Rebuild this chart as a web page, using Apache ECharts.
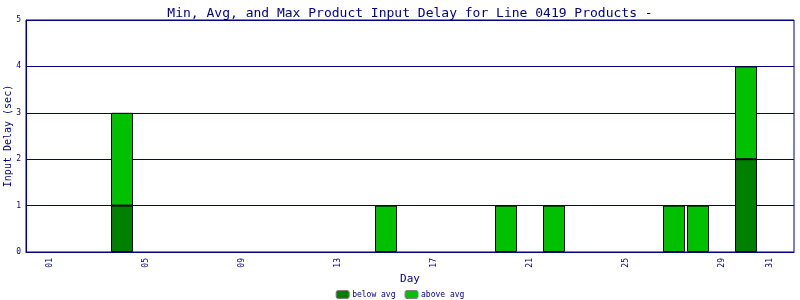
<!DOCTYPE html>
<html>
<head>
<meta charset="utf-8">
<script src="https://cdn.jsdelivr.net/npm/echarts@6/dist/echarts.min.js"></script>
<style>html,body{margin:0;padding:0;background:#fff}#c{width:800px;height:300px}</style>
</head>
<body>
<div id="c"></div>
<script>
// Day slots 00..32 (00 and 32 are padding slots at the plot edges)
var days = ['00','01','02','03','04','05','06','07','08','09','10','11','12','13','14','15','16','17','18','19','20','21','22','23','24','25','26','27','28','29','30','31','32'];
var shownDayLabels = ['01','05','09','13','17','21','25','29','31'];
var belowAvg = ['-','-','-','-',1,'-','-','-','-','-','-','-','-','-','-','-','-','-','-','-','-','-','-','-','-','-','-','-','-','-',2,'-','-'];
var aboveAvg = ['-','-','-','-',2,'-','-','-','-','-','-','-','-','-','-',1,'-','-','-','-',1,'-',1,'-','-','-','-',1,1,'-',2,'-','-'];
var yTicks = [0,1,2,3,4,5];

var navy = '#000080';
var mono = '"DejaVu Sans Mono", "Liberation Mono", monospace';
var chart = echarts.init(document.getElementById('c'), null, {renderer:'canvas'});
chart.setOption({
  animation: false,
  backgroundColor: '#fff',
  title: {
    text: 'Min, Avg, and Max Product Input Delay for Line 0419 Products -',
    left: 405, top: 2, textAlign: 'center',
    textStyle: {color: navy, fontFamily: mono, fontSize: 13, fontWeight: 'normal'}
  },
  legend: {
    top: 290, left: 'center', padding: 0, itemWidth: 13, itemHeight: 8, itemGap: 9,
    textStyle: {color: navy, fontFamily: mono, fontSize: 8, padding: [0,0,0,-2]},
    itemStyle: {borderColor: '#808080', borderWidth: 1},
    data: ['below avg','above avg']
  },
  grid: {left: 26, right: 6, top: 20, bottom: 48, show: true, borderColor: navy, borderWidth: 1,
         containLabel: false, outerBoundsMode: 'none'},
  xAxis: {
    type: 'category', data: days, boundaryGap: false,
    name: 'Day', nameLocation: 'middle', nameGap: 22, nameMoveOverlap: false,
    nameTextStyle: {color: navy, fontFamily: mono, fontSize: 11},
    axisLine: {lineStyle: {color: navy}},
    axisTick: {show: false},
    axisLabel: {
      rotate: 90, color: navy, fontFamily: mono, fontSize: 8, margin: 6,
      interval: function(i, v){ return shownDayLabels.indexOf(v) >= 0; }
    },
    splitLine: {show: false}
  },
  yAxis: {
    type: 'value', min: yTicks[0], max: yTicks[yTicks.length-1], interval: 1,
    name: 'Input Delay (sec)', nameLocation: 'middle', nameGap: 13, nameMoveOverlap: false,
    nameTextStyle: {color: navy, fontFamily: mono, fontSize: 10},
    axisLine: {show: true, lineStyle: {color: navy}},
    axisTick: {show: false},
    axisLabel: {color: navy, fontFamily: mono, fontSize: 8, margin: 5},
    splitLine: {show: true, lineStyle: {color: navy, width: 1}}
  },
  series: [
    {name: 'below avg', type: 'bar', stack: 'd', data: belowAvg, barWidth: 22,
     itemStyle: {color: '#008000', borderColor: '#000', borderWidth: 1}},
    {name: 'above avg', type: 'bar', stack: 'd', data: aboveAvg, barWidth: 22,
     itemStyle: {color: '#00c000', borderColor: '#000', borderWidth: 1}}
  ]
});
</script>
</body>
</html>
